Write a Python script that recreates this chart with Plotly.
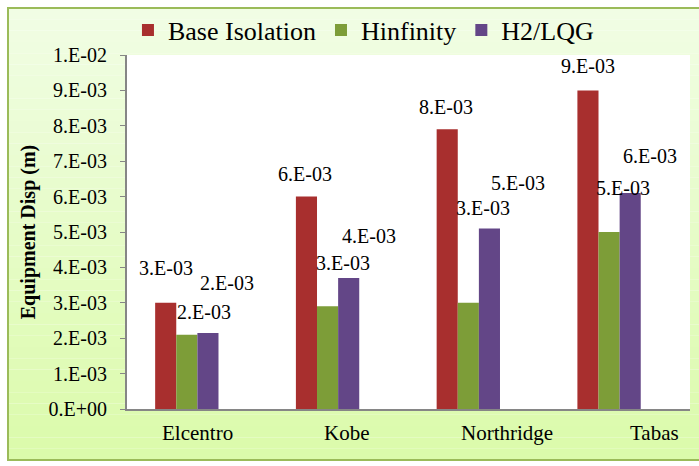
import plotly.graph_objects as go

# ---------------- data ----------------
categories = ["Elcentro", "Kobe", "Northridge", "Tabas"]
base_isolation = [0.0030, 0.0060, 0.0079, 0.0090]
hinfinity = [0.0021, 0.0029, 0.0030, 0.0050]
h2_lqg = [0.00215, 0.0037, 0.0051, 0.0061]
series_names = ["Base Isolation", "Hinfinity", "H2/LQG"]
y_tick_values = [0.000, 0.001, 0.002, 0.003, 0.004, 0.005, 0.006, 0.007, 0.008, 0.009, 0.010]
y_tick_labels = ["0.E+00", "1.E-03", "2.E-03", "3.E-03", "4.E-03", "5.E-03",
                 "6.E-03", "7.E-03", "8.E-03", "9.E-03", "1.E-02"]

# ---------------- styles ----------------
FONT = "Liberation Serif, Times New Roman, DejaVu Serif, serif"
colors = ["#a82f2e", "#7d9d38", "#634687"]
W, H = 699, 466
L, R, T, B = 127, 9, 55, 57
PW, PH = W - L - R, H - T - B
BARGAP = 0.40
NSLOT = 4  # one empty slot (hidden series) as in the original
slot = (1 - BARGAP) / NSLOT
slot_offsets = [-1.5 * slot, -0.5 * slot, 0.5 * slot]

# manual label nudges (pixels): (dx, dy above bar top)
label_nudges = [
    [(0, 35), (-1, 23), (-1, 22), (0, 24)],
    [(17, 23), (15, 43), (15, 95), (14, 44)],
    [(19, 50), (20, 42), (29, 45), (20, 37)],
]
cat_label_shift = [0, 9, 28, 35]

def sci(v):
    return "{:.0E}".format(v).replace("E", ".E")

fig = go.Figure()
all_series = [base_isolation, hinfinity, h2_lqg]
for name, vals, c in zip(series_names, all_series, colors):
    fig.add_trace(go.Bar(x=categories, y=vals, name=name, marker=dict(color=c, line=dict(width=0))))
# hidden placeholder series (occupies the empty 4th slot)
fig.add_trace(go.Bar(x=categories, y=[None] * len(categories), showlegend=False,
                     hoverinfo="skip", marker=dict(color="rgba(0,0,0,0)")))

annotations = []
for si, vals in enumerate(all_series):
    for ci, v in enumerate(vals):
        dx, dy = label_nudges[si][ci]
        annotations.append(dict(
            x=ci + slot_offsets[si], y=v, xref="x", yref="y", text=sci(v),
            showarrow=False, xshift=dx, yshift=dy, yanchor="middle",
            font=dict(family=FONT, size=20, color="#000000")))
for ci, cat in enumerate(categories):
    annotations.append(dict(
        x=ci, y=0, xref="x", yref="y", text=cat, showarrow=False,
        xshift=cat_label_shift[ci], yshift=-24, yanchor="middle",
        font=dict(family=FONT, size=21, color="#000000")))

# background frame with vertical gradient
def px2paper_x(px):
    return (px - L) / PW

def px2paper_y(py):
    return (H - B - py) / PH

fx0, fx1 = px2paper_x(8), px2paper_x(703)
fy_top, fy_bot = px2paper_y(8), px2paper_y(460)
top_rgb = (241, 253, 229)
bot_rgb = (219, 251, 170)
shapes = []
NB = 40
for i in range(NB):
    t = (i + 0.5) / NB
    rgb = tuple(int(round(a + (b - a) * t)) for a, b in zip(top_rgb, bot_rgb))
    y1 = fy_top + (fy_bot - fy_top) * i / NB
    y0 = fy_top + (fy_bot - fy_top) * (i + 1) / NB
    shapes.append(dict(type="rect", xref="paper", yref="paper", x0=fx0, x1=fx1, y0=y0, y1=y1,
                       fillcolor="rgb(%d,%d,%d)" % rgb, line=dict(width=0), layer="below"))
shapes.append(dict(type="rect", xref="paper", yref="paper", x0=fx0, x1=fx1, y0=fy_bot, y1=fy_top,
                   fillcolor="rgba(0,0,0,0)", line=dict(color="#9bbb59", width=2), layer="below"))
shapes.append(dict(type="rect", xref="paper", yref="paper", x0=0, x1=1, y0=0, y1=1,
                   fillcolor="#ffffff", line=dict(width=0), layer="below"))

fig.update_layout(
    width=W, height=H,
    margin=dict(l=L, r=R, t=T, b=B, pad=0, autoexpand=False),
    paper_bgcolor="#ffffff", plot_bgcolor="rgba(0,0,0,0)",
    barmode="group", bargap=BARGAP, bargroupgap=0,
    font=dict(family=FONT, size=20, color="#000000"),
    showlegend=True,
    legend=dict(orientation="h", x=0.42, xanchor="center", y=1 + (T - 30) / PH, yanchor="middle",
                font=dict(family=FONT, size=26, color="#000000"), bgcolor="rgba(0,0,0,0)",
                itemwidth=30, traceorder="normal"),
    xaxis=dict(showticklabels=False, showline=True, linecolor="#868686", linewidth=2,
               ticks="", showgrid=False, zeroline=False, fixedrange=True),
    yaxis=dict(range=[0, 0.010], tickvals=y_tick_values, ticktext=y_tick_labels,
               showline=True, linecolor="#868686", linewidth=2, ticks="outside", ticklen=5,
               tickcolor="#868686", tickwidth=1, showgrid=False, zeroline=False,
               tickfont=dict(family=FONT, size=20, color="#000000"), ticklabelstandoff=9,
               title=dict(text="<b>Equipment Disp (m)</b>", standoff=8,
                          font=dict(family=FONT, size=20, color="#000000"))),
    annotations=annotations, shapes=shapes,
)
fig.write_html("out.html", config={"displayModeBar": False},
               post_script="document.body.style.margin='0';")
